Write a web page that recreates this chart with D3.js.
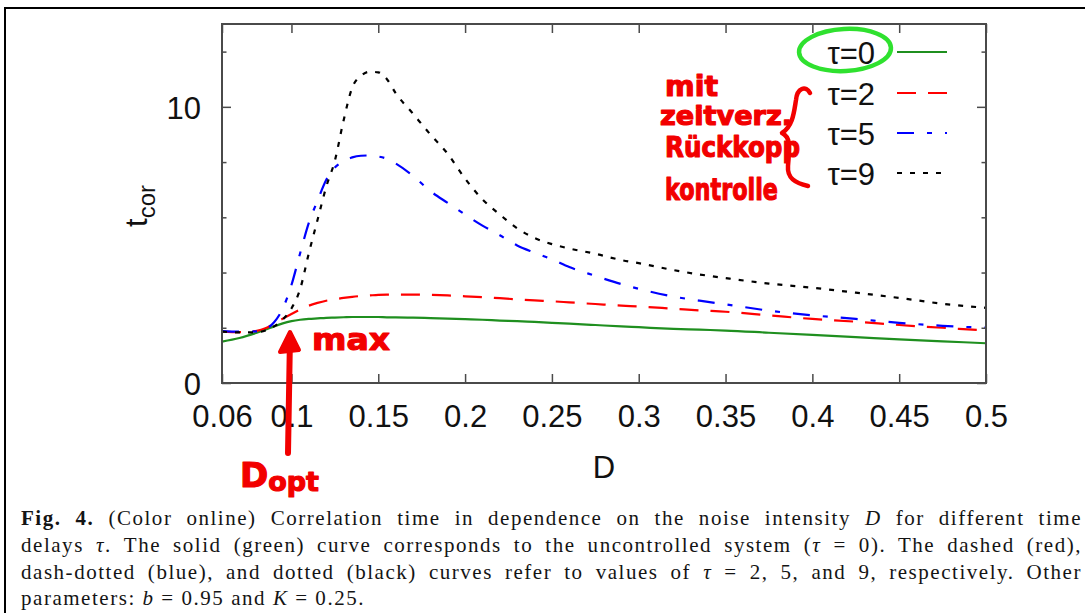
<!DOCTYPE html>
<html>
<head>
<meta charset="utf-8">
<script src="https://cdn.jsdelivr.net/npm/d3@7"></script>
<style>
  html, body { margin: 0; padding: 0; background: #fff; overflow: hidden; }
  svg { display: block; }
</style>
</head>
<body>
<svg id="fig" width="1085" height="613"></svg>
<script>
// Noise intensity D (common grid for all curves)
const noiseD = [0.06, 0.07, 0.08, 0.085, 0.09, 0.095, 0.1, 0.105, 0.11, 0.115, 0.12, 0.125,
  0.13, 0.135, 0.14, 0.145, 0.15, 0.155, 0.16, 0.17, 0.18, 0.19, 0.2, 0.21, 0.22, 0.23,
  0.24, 0.25, 0.26, 0.275, 0.29, 0.3, 0.32, 0.335, 0.35, 0.375, 0.4, 0.425, 0.45, 0.475, 0.5];

// Correlation time t_cor for each delay tau
const tcorTau0 = [1.5, 1.63, 1.82, 1.93, 2.05, 2.16, 2.24, 2.29, 2.32, 2.34, 2.36, 2.37,
  2.38, 2.39, 2.39, 2.39, 2.39, 2.38, 2.38, 2.37, 2.35, 2.33, 2.31, 2.29, 2.26, 2.24,
  2.21, 2.18, 2.15, 2.1, 2.05, 2.02, 1.96, 1.93, 1.9, 1.82, 1.74, 1.66, 1.58, 1.51, 1.44];
const tcorTau2 = [1.86, 1.84, 1.89, 1.98, 2.15, 2.33, 2.5, 2.66, 2.8, 2.9, 2.98, 3.03,
  3.08, 3.12, 3.15, 3.17, 3.19, 3.2, 3.2, 3.2, 3.19, 3.17, 3.14, 3.11, 3.07, 3.03,
  2.99, 2.96, 2.92, 2.86, 2.8, 2.77, 2.69, 2.63, 2.58, 2.45, 2.32, 2.22, 2.1, 2.0, 1.9];
const tcorTau5 = [1.88, 1.86, 1.87, 1.95, 2.2, 2.7, 3.55, 4.7, 5.8, 6.6, 7.35, 7.8,
  8.03, 8.17, 8.23, 8.24, 8.2, 8.12, 7.95, 7.5, 6.95, 6.52, 6.1, 5.7, 5.35, 4.98,
  4.72, 4.48, 4.2, 3.88, 3.58, 3.41, 3.13, 2.98, 2.85, 2.62, 2.45, 2.32, 2.18, 2.07, 2.0];
const tcorTau9 = [1.86, 1.83, 1.84, 1.9, 2.05, 2.3, 2.7, 3.4, 4.7, 5.9, 7.1, 8.05,
  9.5, 10.7, 11.12, 11.27, 11.25, 11.0, 10.5, 9.75, 9.0, 8.3, 7.4, 6.65, 6.1, 5.6,
  5.25, 5.03, 4.87, 4.68, 4.45, 4.34, 4.09, 3.93, 3.8, 3.6, 3.45, 3.27, 3.08, 2.87, 2.72];

const legendLabels = ["τ=0", "τ=2", "τ=5", "τ=9"];
const xTickValues = [0.06, 0.1, 0.15, 0.2, 0.25, 0.3, 0.35, 0.4, 0.45, 0.5];
const xTickLabels = ["0.06", "0.1", "0.15", "0.2", "0.25", "0.3", "0.35", "0.4", "0.45", "0.5"];
const yMajorTicks = [0, 10];
const yMinorTicks = [2, 4, 6, 8, 12];

const captionLines = [
  [["b", "Fig. 4."], ["r", " (Color online) Correlation time in dependence on the noise intensity "], ["i", "D"], ["r", " for different time"]],
  [["r", "delays "], ["i", "τ"], ["r", ". The solid (green) curve corresponds to the uncontrolled system ("], ["i", "τ"], ["r", " = 0). The dashed (red),"]],
  [["r", "dash-dotted (blue), and dotted (black) curves refer to values of "], ["i", "τ"], ["r", " = 2, 5, and 9, respectively. Other"]],
  [["r", "parameters: "], ["i", "b"], ["r", " = 0.95 and "], ["i", "K"], ["r", " = 0.25."]]
];

const series = [
  { values: tcorTau0, color: "#1f8f1f", dash: null },
  { values: tcorTau2, color: "#ff0000", dash: "19,12" },
  { values: tcorTau5, color: "#0000ff", dash: "17,13,5,13" },
  { values: tcorTau9, color: "#000000", dash: "5,8" }
];

const svg = d3.select("#fig");
const plot = { left: 222, right: 986, top: 24, bottom: 383 };

const x = d3.scaleLinear().domain([0.06, 0.5]).range([plot.left, plot.right]);
const y = d3.scaleLinear().domain([0, 13]).range([plot.bottom, plot.top]);

// outer page frame
svg.append("path")
  .attr("d", "M5,613 V8 H1085")
  .attr("fill", "none").attr("stroke", "#000").attr("stroke-width", 2);

svg.append("clipPath").attr("id", "plotClip")
  .append("rect")
  .attr("x", plot.left).attr("y", plot.top)
  .attr("width", plot.right - plot.left).attr("height", plot.bottom - plot.top);

// curves
const line = d3.line()
  .x((d, i) => x(noiseD[i]))
  .y(d => y(d))
  .curve(d3.curveMonotoneX);

const curves = svg.append("g").attr("clip-path", "url(#plotClip)");
series.forEach(s => {
  curves.append("path")
    .attr("d", line(s.values))
    .attr("fill", "none")
    .attr("stroke", s.color)
    .attr("stroke-width", 2.2)
    .attr("stroke-dasharray", s.dash);
});

// axes: bottom with labels, top/left/right mirrored ticks drawn inward
const axisColor = "#4a4a4a";
const tickFont = "'Liberation Sans', Arial, Helvetica, sans-serif";

const gBottom = svg.append("g").attr("transform", `translate(0,${plot.bottom})`)
  .call(d3.axisBottom(x).tickValues(xTickValues).tickSize(-9).tickPadding(18)
    .tickFormat((d, i) => xTickLabels[i]));
const gTop = svg.append("g").attr("transform", `translate(0,${plot.top})`)
  .call(d3.axisTop(x).tickValues(xTickValues).tickSize(-9).tickFormat(""));
const gLeftMinor = svg.append("g").attr("transform", `translate(${plot.left},0)`)
  .call(d3.axisLeft(y).tickValues(yMinorTicks).tickSize(-4.5).tickFormat(""));
const gLeft = svg.append("g").attr("transform", `translate(${plot.left},0)`)
  .call(d3.axisLeft(y).tickValues(yMajorTicks).tickSize(-9).tickPadding(30).tickFormat(d3.format("d")));
const gRightMinor = svg.append("g").attr("transform", `translate(${plot.right},0)`)
  .call(d3.axisRight(y).tickValues(yMinorTicks).tickSize(-4.5).tickFormat(""));
const gRight = svg.append("g").attr("transform", `translate(${plot.right},0)`)
  .call(d3.axisRight(y).tickValues(yMajorTicks).tickSize(-9).tickFormat(""));

[gBottom, gTop, gLeft, gLeftMinor, gRight, gRightMinor].forEach(g => {
  g.select(".domain").remove();
  g.selectAll(".tick line").attr("stroke", axisColor).attr("stroke-width", 1.5);
  g.selectAll("text").attr("fill", "#111").attr("font-family", tickFont).attr("font-size", 31);
});
gBottom.selectAll(".tick text").attr("dy", null).attr("y", 44);
gLeft.selectAll(".tick text").attr("dy", "0.36em").attr("x", -21);

// plot frame
svg.append("rect")
  .attr("x", plot.left).attr("y", plot.top)
  .attr("width", plot.right - plot.left).attr("height", plot.bottom - plot.top)
  .attr("fill", "none").attr("stroke", axisColor).attr("stroke-width", 2);

// axis titles
svg.append("text")
  .attr("x", 604).attr("y", 478)
  .attr("text-anchor", "middle")
  .attr("font-family", tickFont).attr("font-size", 31).attr("fill", "#111")
  .text("D");

const yTitle = svg.append("text")
  .attr("transform", "translate(147,206) rotate(-90)")
  .attr("text-anchor", "middle")
  .attr("font-family", tickFont).attr("fill", "#111");
yTitle.append("tspan").attr("font-size", 31).text("t");
yTitle.append("tspan").attr("font-size", 24).attr("dy", 8).text("cor");

// legend
const legendY = [52, 93, 133, 173];
const legend = svg.append("g");
series.forEach((s, i) => {
  legend.append("text")
    .attr("x", 875).attr("y", legendY[i] + 12)
    .attr("text-anchor", "end")
    .attr("font-family", tickFont).attr("font-size", 31).attr("fill", "#111")
    .text(legendLabels[i]);
  legend.append("line")
    .attr("x1", 897).attr("x2", 947)
    .attr("y1", legendY[i]).attr("y2", legendY[i])
    .attr("stroke", s.color).attr("stroke-width", 2.2)
    .attr("stroke-dasharray", s.dash);
});

// hand-drawn red notes
const ink = "#f20000";
const handFont = "'DejaVu Sans', sans-serif";
const notes = svg.append("g").attr("fill", ink).attr("stroke", ink)
  .attr("stroke-linejoin", "round").attr("stroke-linecap", "round");

function handText(str, xPos, yPos, size, width) {
  return notes.append("text")
    .attr("x", xPos).attr("y", yPos)
    .attr("font-family", handFont).attr("font-weight", "bold")
    .attr("font-size", size).attr("stroke-width", 1.2)
    .attr("textLength", width).attr("lengthAdjust", "spacingAndGlyphs")
    .text(str);
}
handText("mit", 665, 96, 29, 53);
handText("zeitverz.", 660, 125, 26, 132);
handText("Rückkopp", 665, 157, 28, 135);
handText("kontrolle", 665, 200, 31, 113);
handText("max", 312, 350, 31, 78);

const dopt = notes.append("text")
  .attr("x", 240).attr("y", 487)
  .attr("font-family", handFont).attr("font-weight", "bold").attr("stroke-width", 1.2);
dopt.append("tspan").attr("font-size", 34).text("D");
dopt.append("tspan").attr("font-size", 27).attr("dy", 4).text("opt");

// curly brace grouping the delayed-feedback curves
notes.append("path")
  .attr("d", "M810,93 C806,85 797,88 796,100 C794,112 793,126 782,133 C792,138 789,150 788,166 C787,178 795,183 808,186")
  .attr("fill", "none").attr("stroke-width", 4.5);

// arrow to the maximum
notes.append("path")
  .attr("d", "M288,453 L290,336")
  .attr("fill", "none").attr("stroke-width", 6);
notes.append("path")
  .attr("d", "M280,352 L290,332 L299,350 Z")
  .attr("stroke-width", 4);

// green ring around the uncontrolled case
svg.append("ellipse")
  .attr("cx", 845).attr("cy", 50).attr("rx", 46).attr("ry", 21)
  .attr("transform", "rotate(-3,845,50)")
  .attr("fill", "none").attr("stroke", "#2fe12f").attr("stroke-width", 4.5);

// caption: wide-set serif, full lines justified to the text block width
const capFont = "'Liberation Serif', 'Times New Roman', serif";
const capX = 21;
const capBase = [525, 552, 579, 605];
const capRight = 1082;
const lastLineWidth = 344;
const capTexts = captionLines.map((parts, li) => {
  const t = svg.append("text")
    .attr("x", capX).attr("y", capBase[li])
    .attr("font-family", capFont).attr("font-size", 21).attr("fill", "#141414");
  parts.forEach(([style, str]) => {
    const sp = t.append("tspan").text(str);
    if (style === "b") sp.attr("font-weight", "bold");
    if (style === "i") sp.attr("font-style", "italic");
  });
  return t;
});
const lastFull = captionLines[3].map(p => p[1]).join("");
const lastNatural = capTexts[3].node().getComputedTextLength();
const tracking = (lastLineWidth - lastNatural) / lastFull.length;
capTexts.forEach(t => t.attr("letter-spacing", tracking));
capTexts.slice(0, 3).forEach((t, li) => {
  const natural = t.node().getComputedTextLength();
  const full = captionLines[li].map(p => p[1]).join("");
  const spaces = (full.match(/ /g) || []).length;
  t.attr("word-spacing", ((capRight - capX) - natural) / spaces);
});
</script>
</body>
</html>
